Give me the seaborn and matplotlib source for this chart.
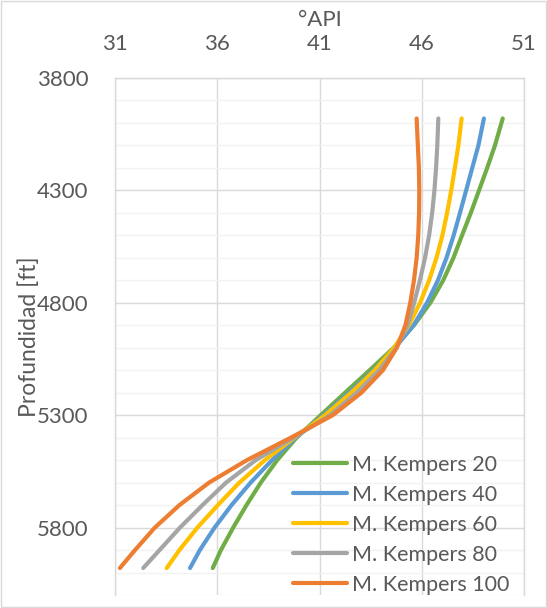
import pandas as pd
import matplotlib.pyplot as plt
import seaborn as sns
from matplotlib.ticker import MultipleLocator
from matplotlib.patches import Rectangle

# ---------------------------------------------------------------------
# Data (depth in ft, gravity in °API)
# ---------------------------------------------------------------------
depth = [3980, 4100, 4200, 4300, 4400, 4500, 4600, 4700, 4800, 4900, 5000,
         5100, 5200, 5300, 5400, 5500, 5600, 5700, 5800, 5900, 5980]

api_k20 = [49.96, 49.58, 49.20, 48.80, 48.40, 47.97, 47.55, 47.05, 46.42, 45.62, 44.63,
           43.45, 42.25, 41.06, 39.88, 38.93, 38.13, 37.43, 36.78, 36.18, 35.78]
api_k40 = [49.04, 48.77, 48.47, 48.17, 47.87, 47.56, 47.21, 46.79, 46.26, 45.60, 44.70,
           43.65, 42.45, 41.20, 39.83, 38.68, 37.63, 36.70, 35.87, 35.15, 34.67]
api_k60 = [47.95, 47.79, 47.62, 47.44, 47.24, 47.01, 46.72, 46.36, 45.92, 45.37, 44.65,
           43.70, 42.55, 41.27, 39.78, 38.33, 37.08, 36.03, 35.03, 34.15, 33.53]
api_k80 = [46.81, 46.76, 46.70, 46.62, 46.51, 46.36, 46.16, 45.91, 45.63, 45.31, 44.76,
           43.92, 42.82, 41.52, 39.73, 37.88, 36.43, 35.28, 34.18, 33.18, 32.38]
api_k100 = [45.75, 45.81, 45.86, 45.88, 45.87, 45.83, 45.75, 45.62, 45.44, 45.20, 44.78,
            44.10, 43.05, 41.65, 39.60, 37.45, 35.60, 34.15, 32.95, 31.98, 31.24]

series_names = ["M. Kempers 20", "M. Kempers 40", "M. Kempers 60",
                "M. Kempers 80", "M. Kempers 100"]
series_values = [api_k20, api_k40, api_k60, api_k80, api_k100]
series_colors = ["#70AD47", "#5B9BD5", "#FFC000", "#A5A5A5", "#ED7D31"]

x_ticks = [31, 36, 41, 46, 51]
y_ticks = [3800, 4300, 4800, 5300, 5800]

# long table for seaborn
frames = []
for name, vals in zip(series_names, series_values):
    frames.append(pd.DataFrame({"Depth": depth, "API": vals, "Serie": name}))
df = pd.concat(frames, ignore_index=True)

# ---------------------------------------------------------------------
# Theme
# ---------------------------------------------------------------------
sns.set_theme(style="white")
plt.rcParams["font.family"] = ["Lato", "DejaVu Sans"]
text_color = "#595959"

fig = plt.figure(figsize=(5.47, 6.08), dpi=100)
ax = fig.add_axes([115 / 547, 1 - 595 / 608, 409 / 547, 517 / 608])

sns.lineplot(data=df, x="API", y="Depth", hue="Serie", hue_order=series_names,
             palette=series_colors, sort=False, estimator=None, orient="y",
             linewidth=3.0, solid_capstyle="round", solid_joinstyle="round",
             ax=ax, zorder=3)

# axes: x on top, depth inverted
ax.set_xlim(31, 51)
ax.set_ylim(6100, 3800)
ax.xaxis.tick_top()
ax.set_xticks(x_ticks)
ax.set_yticks(y_ticks)
ax.yaxis.set_minor_locator(MultipleLocator(100))
ax.tick_params(which="both", length=0, labelsize=16, colors=text_color)
ax.tick_params(axis="x", pad=17)
ax.tick_params(axis="y", pad=19)

ax.grid(which="major", color="#D9D9D9", linewidth=1.0)
ax.grid(which="minor", axis="y", color="#F2F2F2", linewidth=1.0)
ax.set_axisbelow(True)
for side in ["top", "left", "right"]:
    ax.spines[side].set_color("#D9D9D9")
    ax.spines[side].set_linewidth(1.0)
ax.spines["bottom"].set_visible(False)

ax.set_xlabel("")
ax.set_ylabel("Profundidad [ft]", fontsize=16.5, color=text_color)
ax.yaxis.set_label_coords(-0.183, 0.5)
ax.text(0.5, 1.112, "°API", transform=ax.transAxes, ha="center", va="center",
        fontsize=16, color=text_color)

leg = ax.legend(loc="lower left", bbox_to_anchor=(0.435, 0.0), frameon=False,
                fontsize=15.5, handlelength=2.5, handletextpad=0.23,
                labelspacing=0.47, borderpad=0, borderaxespad=0)
for t in leg.get_texts():
    t.set_color(text_color)
for h in leg.get_lines():
    h.set_linewidth(3.0)

# chart area border
fig.patches.append(Rectangle((0.002, 0.002), 0.996, 0.996, transform=fig.transFigure,
                             fill=False, edgecolor="#D9D9D9", linewidth=1.0))

fig.savefig("out.png", dpi=100)
